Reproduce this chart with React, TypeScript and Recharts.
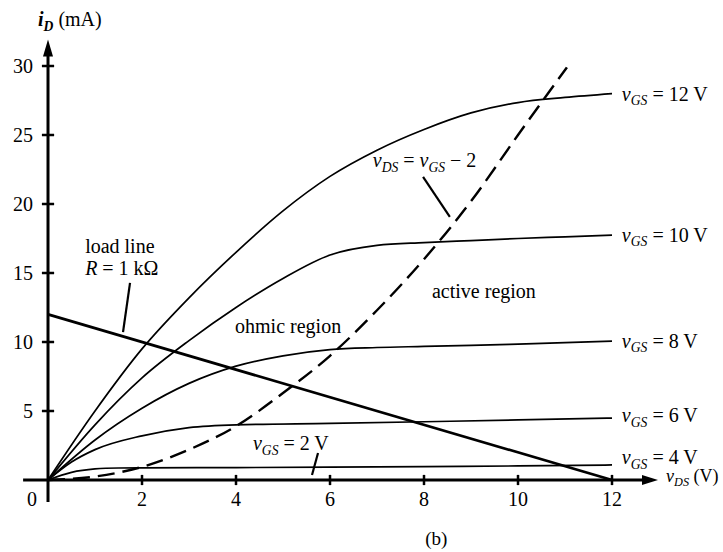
import { LineChart, Line, XAxis, YAxis, ReferenceLine, ReferenceDot } from "recharts";

const FONT = '"Liberation Serif", "Times New Roman", serif';
const FS = 20;

// axis ticks
const xTicks = [0, 2, 4, 6, 8, 10, 12];
const yTicks = [5, 10, 15, 20, 25, 30];

// drain characteristics, iD (mA) vs vDS (V)
const vds12 = [0, 1, 2, 3, 4, 5, 6, 7, 8, 9, 10, 11, 12];
const id12 = [0, 5.0, 9.5, 13.2, 16.5, 19.5, 22.0, 23.9, 25.4, 26.6, 27.35, 27.72, 28.0];
const vds10 = [0, 1, 2, 3, 4, 5, 6, 7, 8, 9, 10, 11, 12];
const id10 = [0, 4.0, 7.4, 10.1, 12.5, 14.6, 16.3, 17.0, 17.2, 17.35, 17.5, 17.62, 17.75];
const vds8 = [0, 1, 2, 3, 4, 5, 6, 7, 8, 9, 10, 11, 12];
const id8 = [0, 2.9, 5.2, 7.0, 8.25, 9.0, 9.45, 9.6, 9.68, 9.76, 9.85, 9.95, 10.07];
const vds6 = [0, 0.5, 1, 2, 3, 4, 6, 8, 10, 12];
const id6 = [0, 1.3, 2.2, 3.2, 3.8, 4.0, 4.1, 4.22, 4.35, 4.49];
const vds4 = [0, 0.5, 1, 1.5, 2, 4, 6, 8, 10, 12];
const id4 = [0, 0.55, 0.8, 0.87, 0.88, 0.9, 0.93, 0.97, 1.02, 1.09];

// vDS = vGS - 2 boundary (dashed)
const vdsEdge = [0, 1, 2, 3, 4, 5, 6, 7, 8, 9, 10, 11.04];
const idEdge = [0, 0.25, 0.95, 2.2, 3.9, 6.3, 9.0, 12.3, 16.0, 20.2, 25.0, 29.9];

// load line R = 1 kOhm
const loadVds = [0, 12];
const loadId = [12, 0];

const gsNames = ["4", "6", "8", "10", "12"];
const gsLabelY = [1.65, 4.7, 10.07, 17.75, 27.97];

const zip = (xs: number[], ys: number[]) => xs.map((x, i) => ({ x, y: ys[i] }));

const curves = [zip(vds4, id4), zip(vds6, id6), zip(vds8, id8), zip(vds10, id10), zip(vds12, id12)];

// little leader strokes from labels to curves
const pointers = [
  [{ x: 1.745, y: 14.28 }, { x: 1.596, y: 10.72 }],
  [{ x: 5.745, y: 1.96 }, { x: 5.617, y: 0.36 }],
  [{ x: 7.98, y: 21.96 }, { x: 8.55, y: 19.06 }],
];

type Kind = "n" | "i" | "s" | "bi" | "bs";
type Part = [string, Kind];

const notes: { x: number; y: number; parts: Part[]; anchor?: string; size?: number; dy?: number }[] = [
  { x: -0.213, y: 32.9, parts: [["i", "bi"], ["D", "bs"], [" (mA)", "n"]] },
  { x: 13.15, y: -0.15, parts: [["v", "i"], ["DS", "s"], [" (V)", "n"]], size: 18 },
  { x: 0.79, y: 16.45, parts: [["load line", "n"]] },
  { x: 0.79, y: 14.86, parts: [["R", "i"], [" = 1 k\u03a9", "n"]] },
  { x: 3.98, y: 10.65, parts: [["ohmic region", "n"]] },
  { x: 8.17, y: 13.19, parts: [["active region", "n"]] },
  { x: 4.36, y: 2.17, parts: [["v", "i"], ["GS", "s"], [" = 2 V", "n"]] },
  { x: 6.91, y: 22.68, parts: [["v", "i"], ["DS", "s"], [" = ", "n"], ["v", "i"], ["GS", "s"], [" \u2212 2", "n"]] },
  { x: 8.26, y: -4.71, parts: [["(b)", "n"]], anchor: "middle", size: 19 },
  ...gsNames.map((n, i) => ({
    x: 12.21,
    y: gsLabelY[i],
    parts: [["v", "i"], ["GS", "s"], [` = ${n} V`, "n"]] as Part[],
    dy: 6.6,
  })),
];

function rich(cx: number, cy: number, parts: Part[], anchor = "start", size = FS, dy = 0) {
  let low = false;
  const drop = size * 0.24;
  return (
    <text x={cx} y={cy + dy} textAnchor={anchor} fontFamily={FONT} fontSize={size} fill="#000">
      {parts.map(([t, k], i) => {
        const sub = k === "s" || k === "bs";
        const shift = sub && !low ? drop : !sub && low ? -drop : 0;
        low = sub;
        return (
          <tspan
            key={i}
            dy={shift}
            fontStyle={k === "n" ? "normal" : "italic"}
            fontWeight={k === "bi" || k === "bs" ? "bold" : "normal"}
            fontSize={sub ? size * 0.68 : size}
          >
            {t}
          </tspan>
        );
      })}
    </text>
  );
}

const XTick = (p: any) => (
  <text x={p.x + (p.payload.value === 0 ? -16 : 0)} y={p.y + 4} textAnchor="middle" fontFamily={FONT} fontSize={FS} fill="#000">
    {p.payload.value}
  </text>
);

const YTick = (p: any) => (
  <text x={p.x + 10} y={p.y + 6.6} textAnchor="end" fontFamily={FONT} fontSize={FS} fill="#000">
    {p.payload.value}
  </text>
);

const yAxisShape = (p: any) => {
  const top = Math.min(p.y1, p.y2);
  const bot = Math.max(p.y1, p.y2);
  return (
    <g>
      <line x1={p.x1} x2={p.x1} y1={top + 12} y2={bot} stroke="#000" strokeWidth={3} />
      <path d={`M${p.x1},${top + 1} L${p.x1 - 5},${top + 18} L${p.x1 + 5},${top + 18}Z`} fill="#000" />
    </g>
  );
};

const xAxisShape = (p: any) => {
  const l = Math.min(p.x1, p.x2);
  const r = Math.max(p.x1, p.x2);
  return (
    <g>
      <line x1={l} x2={r - 12} y1={p.y1} y2={p.y1} stroke="#000" strokeWidth={3} />
      <path d={`M${r - 1},${p.y1} L${r - 17},${p.y1 - 5} L${r - 17},${p.y1 + 5}Z`} fill="#000" />
    </g>
  );
};

export default function App() {
  return (
    <div style={{ position: "absolute", left: 0, top: 0, background: "#fff" }}>
      <LineChart width={723} height={552} margin={{ top: 38.4, right: 64, bottom: 19.92, left: 0 }}>
        <XAxis
          type="number"
          dataKey="x"
          domain={[-0.53, 13]}
          allowDataOverflow
          ticks={xTicks}
          interval={0}
          axisLine={false}
          tickLine={false}
          tickSize={0}
          tickMargin={0}
          height={30}
          tick={XTick}
        />
        <YAxis
          type="number"
          dataKey="y"
          domain={[-1.6, 32]}
          allowDataOverflow
          ticks={yTicks}
          interval={0}
          axisLine={false}
          tickLine={false}
          tickSize={0}
          tickMargin={0}
          width={23.1}
          tick={YTick}
        />
        <ReferenceLine x={0} shape={yAxisShape} />
        <ReferenceLine y={0} shape={xAxisShape} />
        {xTicks.filter((t) => t !== 0).map((t) => (
          <ReferenceLine key={`xt${t}`} segment={[{ x: t, y: -0.37 }, { x: t, y: 0.37 }]} stroke="#000" strokeWidth={2.5} />
        ))}
        {yTicks.map((t) => (
          <ReferenceLine key={`yt${t}`} segment={[{ x: -0.13, y: t }, { x: 0.13, y: t }]} stroke="#000" strokeWidth={2.5} />
        ))}
        {curves.map((d, i) => (
          <Line
            key={`gs${i}`}
            data={d}
            dataKey="y"
            type="monotone"
            stroke="#000"
            strokeWidth={1.7}
            dot={false}
            activeDot={false}
            isAnimationActive={false}
          />
        ))}
        <Line
          data={zip(vdsEdge, idEdge)}
          dataKey="y"
          type="monotone"
          stroke="#000"
          strokeWidth={2.4}
          strokeDasharray="17 8"
          dot={false}
          activeDot={false}
          isAnimationActive={false}
        />
        <Line
          data={zip(loadVds, loadId)}
          dataKey="y"
          type="linear"
          stroke="#000"
          strokeWidth={2.7}
          dot={false}
          activeDot={false}
          isAnimationActive={false}
        />
        {pointers.map((s, i) => (
          <ReferenceLine key={`pt${i}`} segment={s} stroke="#000" strokeWidth={2.2} />
        ))}
        {notes.map((n, i) => (
          <ReferenceDot
            key={`n${i}`}
            x={n.x}
            y={n.y}
            r={0}
            ifOverflow="visible"
            shape={(p: any) => rich(p.cx, p.cy, n.parts, n.anchor, n.size, n.dy)}
          />
        ))}
      </LineChart>
    </div>
  );
}
